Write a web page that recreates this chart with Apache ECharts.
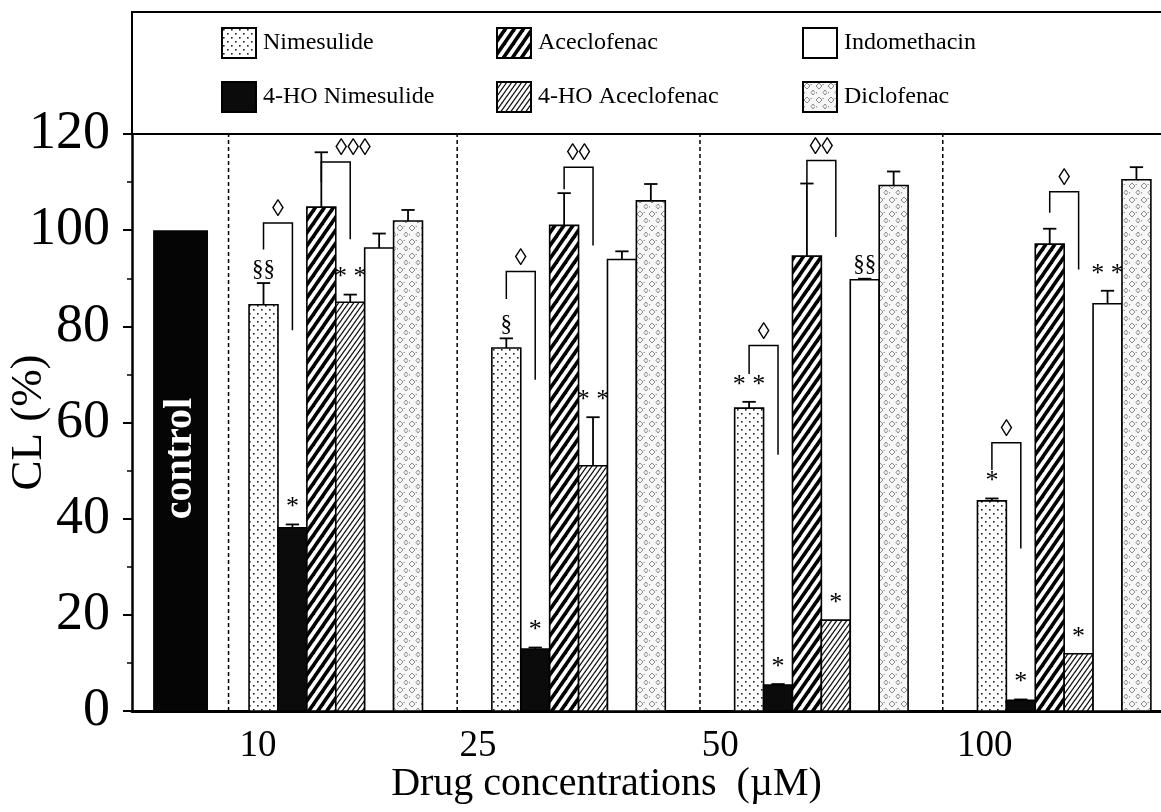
<!DOCTYPE html>
<html>
<head>
<meta charset="utf-8">
<script src="https://cdn.jsdelivr.net/npm/echarts@6/dist/echarts.min.js"></script>
<style>html,body{margin:0;padding:0;background:#fff;}#c{width:1161px;height:812px;}</style>
</head>
<body>
<div id="c"></div>
<script>
// ---------------- data ----------------
const categories = ['10', '25', '50', '100'];
const seriesNames = ['Nimesulide', '4-HO Nimesulide', 'Aceclofenac', '4-HO Aceclofenac', 'Indomethacin', 'Diclofenac'];
const controlLabel = 'control';
const controlValue = 100;

const nimesulide = [84.5, 75.5, 63.0, 43.7];
const nimesulideErr = [4.5, 2.0, 1.3, 0.5];
const hoNimesulide = [38.1, 12.9, 5.4, 2.2];
const hoNimesulideErr = [0.7, 0.3, 0.2, 0.2];
const aceclofenac = [104.8, 101.0, 94.6, 97.1];
const aceclofenacErr = [11.4, 6.7, 15.1, 3.2];
const hoAceclofenac = [85.0, 51.0, 18.9, 11.9];
const hoAceclofenacErr = [1.6, 10.1, 0, 0];
const indomethacin = [96.3, 93.9, 89.7, 84.7];
const indomethacinErr = [3.0, 1.7, 0.2, 2.7];
const diclofenac = [101.9, 106.1, 109.3, 110.5];
const diclofenacErr = [2.3, 3.5, 2.9, 2.6];

const nimesulideMarks = ['§§', '§', '* *', '*'];
const hoNimesulideMarks = ['*', '*', '*', '*'];
const aceclofenacMarks = ['', '', '', ''];
const hoAceclofenacMarks = ['* *', '* *', '*', '*'];
const indomethacinMarks = ['', '', '§§', '* *'];
const diclofenacMarks = ['', '', '', ''];

// significance brackets (Nimesulide vs 4-HO Nimesulide, Aceclofenac vs 4-HO Aceclofenac)
const nimBracketTop = [101.5, 91.4, 76.0, 55.8];
const nimBracketLeftEnd = [96.0, 85.7, 70.1, 50.1];
const nimBracketRightEnd = [79.2, 68.9, 53.3, 33.8];
const nimBracketLabel = ['◊', '◊', '◊', '◊'];
const aceBracketTop = [114.2, 113.1, 114.5, 108.0];
const aceBracketLeftEnd = [110.0, 108.5, 109.7, 103.6];
const aceBracketRightEnd = [98.1, 96.8, 98.6, 91.8];
const aceBracketLabel = ['◊◊◊', '◊◊', '◊◊', '◊'];

const yMin = 0, yMax = 120, yInterval = 20;
const xTitle = 'Drug concentrations  (µM)';
const yTitle = 'CL (%)';

// ---------------- layout (x in bar-width units) ----------------
const XMAX = 35.6;
const CONTROL_X0 = 0.73, CONTROL_W = 1.9;
const GROUP_X0 = 4.05, GROUP_STEP = 8.4, BAR = 1;
const xLabelShift = [0.31, -0.48, -0.5, 0.25];     // label offset from group start
const aceLabelShift = [0.6, 0, 0, 0];
const SERIF = '"Liberation Serif", "Times New Roman", serif';

function pattern(w, h, draw) {
  const c = document.createElement('canvas');
  c.width = w; c.height = h;
  const ctx = c.getContext('2d');
  ctx.fillStyle = '#fff';
  ctx.fillRect(0, 0, w, h);
  draw(ctx, w, h);
  return { image: c, repeat: 'repeat' };
}
function stripes(w, h, lw, color) {
  return pattern(w, h, (ctx) => {
    ctx.strokeStyle = color; ctx.lineWidth = lw; ctx.lineCap = 'square';
    for (const x0 of [-w, 0, w]) {
      ctx.beginPath(); ctx.moveTo(x0, h); ctx.lineTo(x0 + w, 0); ctx.stroke();
    }
  });
}
const fills = [
  pattern(8, 8, (ctx) => { ctx.fillStyle = '#222'; ctx.fillRect(1, 1, 1.6, 1.6); ctx.fillRect(5, 5, 1.6, 1.6); }),
  pattern(4, 4, (ctx) => { ctx.fillStyle = '#0b0b0b'; ctx.fillRect(0, 0, 4, 4); }),
  stripes(9, 13, 3.6, '#000'),
  stripes(5, 7, 1.3, '#111'),
  '#ffffff',
  pattern(12, 14, (ctx) => {
    ctx.fillStyle = '#f7f7f7'; ctx.fillRect(0, 0, 12, 14);
    ctx.strokeStyle = '#8a8a8a'; ctx.lineWidth = 1;
    ctx.beginPath(); ctx.moveTo(4, 1); ctx.lineTo(7, 4); ctx.lineTo(4, 7); ctx.lineTo(1, 4); ctx.closePath(); ctx.stroke();
    ctx.beginPath(); ctx.moveTo(10, 8); ctx.lineTo(12, 10.5); ctx.lineTo(10, 13); ctx.lineTo(8, 10.5); ctx.closePath(); ctx.stroke();
    ctx.fillStyle = '#999'; ctx.fillRect(7.5, 2, 1.5, 1); ctx.fillRect(1, 10, 1, 1.5);
  })
];

const values = [nimesulide, hoNimesulide, aceclofenac, hoAceclofenac, indomethacin, diclofenac];
const errs = [nimesulideErr, hoNimesulideErr, aceclofenacErr, hoAceclofenacErr, indomethacinErr, diclofenacErr];
const marks = [nimesulideMarks, hoNimesulideMarks, aceclofenacMarks, hoAceclofenacMarks, indomethacinMarks, diclofenacMarks];

function barX(g, k) { return GROUP_X0 + g * GROUP_STEP + k * BAR; }

const drugSeries = seriesNames.map((name, k) => ({
  type: 'custom',
  name: name,
  xAxisIndex: 0, yAxisIndex: 0,
  itemStyle: { color: fills[k], borderColor: '#000', borderWidth: 1.5 },
  data: categories.map((c, g) => [g, values[k][g], errs[k][g]]),
  encode: { x: 0, y: 1 },
  z: 3,
  renderItem: function (params, api) {
    const g = api.value(0), v = api.value(1), e = api.value(2);
    const x0 = barX(g, k), xc = x0 + BAR / 2;
    const p0 = api.coord([x0, v]), p1 = api.coord([x0 + BAR, 0]);
    const children = [{
      type: 'rect',
      shape: { x: p0[0], y: p0[1], width: p1[0] - p0[0], height: p1[1] - p0[1] },
      style: { fill: fills[k], stroke: '#000', lineWidth: 1.6 }
    }];
    let topY = p0[1];
    if (e > 0) {
      const t = api.coord([xc, v + e]);
      const cl = api.coord([xc - 0.23, v + e]), cr = api.coord([xc + 0.23, v + e]);
      topY = t[1];
      children.push({ type: 'line', shape: { x1: t[0], y1: p0[1], x2: t[0], y2: t[1] }, style: { stroke: '#000', lineWidth: 1.8 } });
      children.push({ type: 'line', shape: { x1: cl[0], y1: t[1], x2: cr[0], y2: t[1] }, style: { stroke: '#000', lineWidth: 1.8 } });
    }
    const m = marks[k][g];
    if (m) {
      const cx = api.coord([xc, v])[0];
      const star = m.indexOf('*') >= 0;
      children.push({
        type: 'text',
        style: { x: cx, y: topY - (star ? 4 : 2), text: m, fill: '#000',
          font: (star ? '26px ' : '23px ') + SERIF, align: 'center', verticalAlign: 'bottom' }
      });
    }
    return { type: 'group', children: children };
  }
}));

const controlSeries = {
  type: 'custom', name: controlLabel, z: 3,
  data: [[0, controlValue]], encode: { x: 0, y: 1 },
  renderItem: function (params, api) {
    const v = api.value(1);
    const p0 = api.coord([CONTROL_X0, v]), p1 = api.coord([CONTROL_X0 + CONTROL_W, 0]);
    const mid = api.coord([CONTROL_X0 + CONTROL_W / 2, v * 0.525]);
    return { type: 'group', children: [
      { type: 'rect', shape: { x: p0[0], y: p0[1], width: p1[0] - p0[0], height: p1[1] - p0[1] }, style: { fill: '#050505' } },
      { type: 'text', x: mid[0], y: mid[1], rotation: Math.PI / 2,
        style: { x: 0, y: 0, text: controlLabel, fill: '#fff', font: 'bold 40px ' + SERIF, align: 'center', verticalAlign: 'middle' } }
    ] };
  }
};

const sepPositions = [(CONTROL_X0 + CONTROL_W + GROUP_X0) / 2];
for (let g = 1; g < categories.length; g++) sepPositions.push((barX(g - 1, 6) + barX(g, 0)) / 2);
const sepSeries = {
  type: 'custom', name: 'sep', z: 2, silent: true,
  data: sepPositions.map(x => [x, yMax]), encode: { x: 0, y: 1 },
  renderItem: function (params, api) {
    const a = api.coord([api.value(0), yMin]), b = api.coord([api.value(0), yMax]);
    return { type: 'line', shape: { x1: a[0], y1: a[1], x2: b[0], y2: b[1] },
      style: { stroke: '#000', lineWidth: 1.5, lineDash: [4, 3] } };
  }
};

const bracketData = [];
categories.forEach((c, g) => {
  bracketData.push([g, 0, 1, nimBracketTop[g], nimBracketLeftEnd[g], nimBracketRightEnd[g], nimBracketLabel[g], 0]);
  bracketData.push([g, 2, 3, aceBracketTop[g], aceBracketLeftEnd[g], aceBracketRightEnd[g], aceBracketLabel[g], aceLabelShift[g]]);
});
const bracketSeries = {
  type: 'custom', name: 'brackets', z: 4, silent: true,
  data: bracketData.map(d => [barX(d[0], d[1]) + 0.5, d[3], d[4], d[5], barX(d[0], d[2]) + 0.5]),
  encode: { x: 0, y: 1 },
  renderItem: function (params, api) {
    const d = bracketData[params.dataIndex];
    const xa = api.value(0), xb = api.value(4), top = api.value(1), le = api.value(2), re = api.value(3);
    const p1 = api.coord([xa, le]), p2 = api.coord([xa, top]), p3 = api.coord([xb, top]), p4 = api.coord([xb, re]);
    const lx = api.coord([(xa + xb) / 2 + d[7], top]);
    return { type: 'group', children: [
      { type: 'polyline', shape: { points: [p1, p2, p3, p4] }, style: { stroke: '#000', lineWidth: 1.5, fill: null } },
      { type: 'text', style: { x: lx[0], y: p2[1] - 1, text: d[6], fill: '#000',
        font: '24px ' + SERIF, align: 'center', verticalAlign: 'bottom' } }
    ] };
  }
};

const labelPositions = categories.map((c, g) => barX(g, 0) + xLabelShift[g]);
function labelFor(v) {
  let best = 0;
  labelPositions.forEach((p, i) => { if (Math.abs(p - v) < Math.abs(labelPositions[best] - v)) best = i; });
  return categories[best];
}

const legendCommon = {
  orient: 'vertical', itemWidth: 34, itemHeight: 30, itemGap: 22, icon: 'rect', selectedMode: false,
  textStyle: { fontSize: 24, fontFamily: SERIF, color: '#000', padding: [0, 0, 0, 2] }
};

const chart = echarts.init(document.getElementById('c'), null, { renderer: 'canvas' });
chart.setOption({
  backgroundColor: '#fff',
  animation: false,
  grid: { left: 132, right: 0, top: 134, bottom: 101, containLabel: false, outerBoundsMode: 'none' },
  legend: [
    Object.assign({ data: [seriesNames[0], seriesNames[1]], left: 216, top: 22 }, legendCommon),
    Object.assign({ data: [seriesNames[2], seriesNames[3]], left: 491, top: 22 }, legendCommon),
    Object.assign({ data: [seriesNames[4], seriesNames[5]], left: 797, top: 22 }, legendCommon)
  ],
  graphic: [{
    type: 'polyline', z: 10, silent: true,
    shape: { points: [[132, 134], [132, 12], [1161, 12]] },
    style: { fill: null, stroke: '#000', lineWidth: 2 }
  }],
  xAxis: [{
    type: 'value', min: 0, max: XMAX, position: 'bottom',
    axisLine: { show: true, onZero: false, lineStyle: { color: '#000', width: 3 } },
    axisTick: { show: false }, splitLine: { show: false },
    axisLabel: { customValues: labelPositions, formatter: labelFor, fontSize: 37, fontFamily: SERIF, color: '#000', margin: 17 },
    name: xTitle, nameLocation: 'middle', nameGap: 53, nameMoveOverlap: false,
    nameTextStyle: { fontSize: 40, fontFamily: SERIF, color: '#000', padding: [0, 80, 0, 0] }
  }, {
    type: 'value', min: 0, max: XMAX, position: 'top',
    axisLine: { show: true, onZero: false, lineStyle: { color: '#000', width: 2 } },
    axisTick: { show: false }, axisLabel: { show: false }, splitLine: { show: false }
  }],
  yAxis: {
    type: 'value', min: yMin, max: yMax, interval: yInterval,
    axisLine: { show: true, lineStyle: { color: '#000', width: 2.5 } },
    axisTick: { show: true, length: 9, lineStyle: { color: '#000', width: 2 } },
    minorTick: { show: true, splitNumber: 2, length: 5, lineStyle: { color: '#000', width: 1.5 } },
    splitLine: { show: false },
    axisLabel: { fontSize: 54, fontFamily: SERIF, color: '#000', margin: 22 },
    name: yTitle, nameLocation: 'middle', nameGap: 80, nameRotate: 90, nameMoveOverlap: false,
    nameTextStyle: { fontSize: 45, fontFamily: SERIF, color: '#000' }
  },
  series: [sepSeries, controlSeries].concat(drugSeries, [bracketSeries])
});
</script>
</body>
</html>
